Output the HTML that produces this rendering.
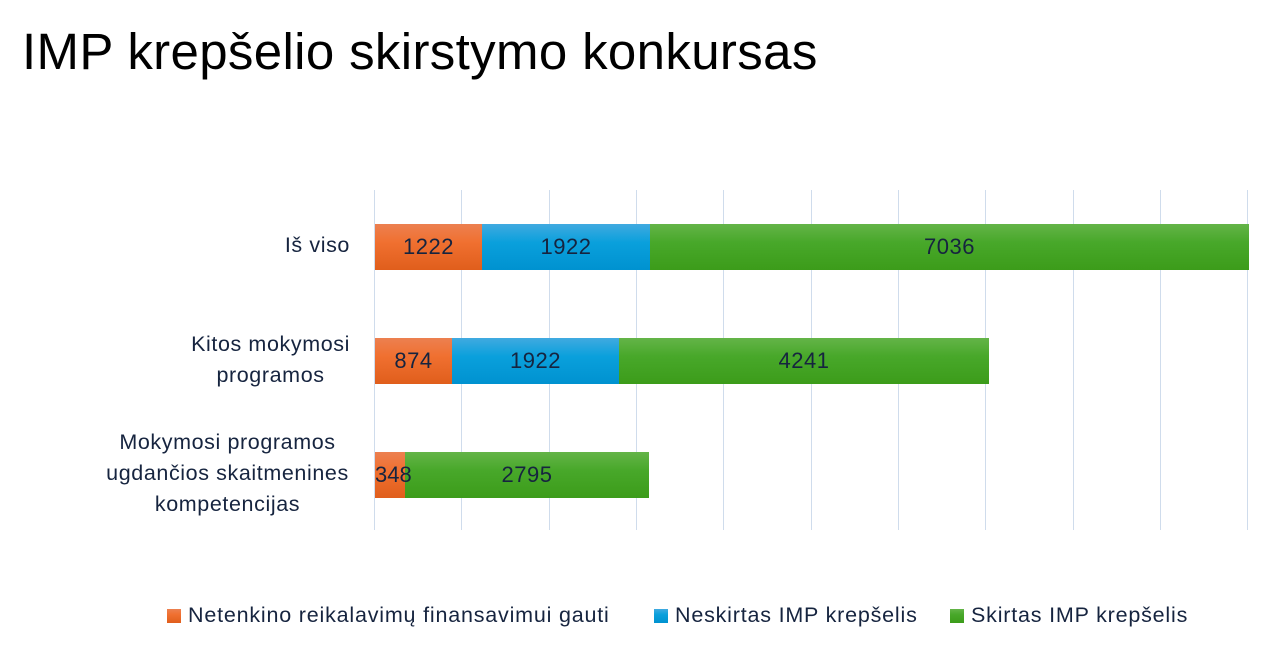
<!DOCTYPE html>
<html><head><meta charset="utf-8"><style>
body{margin:0;width:1278px;height:661px;background:#fff;font-family:"Liberation Sans",sans-serif;position:relative;overflow:hidden;color:#16243f}
.t{position:absolute;left:22px;top:22px;font-size:51px;color:#000;letter-spacing:0.35px}
.g{position:absolute;top:190px;height:340px;width:1px;background:#cfdcec}
.b{position:absolute;height:46px;display:flex;align-items:center;justify-content:center;font-size:22px;letter-spacing:0.5px;color:#16243f}
.o{background:linear-gradient(#ec8050,#f07030 40%,#e05e1c)}
.bl{background:linear-gradient(#40aae0,#0aa0dc 40%,#0092d0)}
.gr{background:linear-gradient(#64b448,#48a82a 40%,#3c9c1a)}
.l{position:absolute;font-size:21.5px;letter-spacing:0.6px;text-align:center;line-height:31px}
.lg{position:absolute;top:603px;font-size:21.5px;letter-spacing:0.8px;display:flex;align-items:center;white-space:nowrap}
.lg i{display:inline-block;width:14px;height:14px;margin-right:7px}
</style></head><body>
<div class="t">IMP krepšelio skirstymo konkursas</div>
<div class="g" style="left:374px"></div><div class="g" style="left:461px"></div><div class="g" style="left:549px"></div><div class="g" style="left:636px"></div><div class="g" style="left:723px"></div><div class="g" style="left:811px"></div><div class="g" style="left:898px"></div><div class="g" style="left:985px"></div><div class="g" style="left:1073px"></div><div class="g" style="left:1160px"></div><div class="g" style="left:1247px"></div>
<div class="b o" style="left:375px;top:224px;width:107px">1222</div>
<div class="b bl" style="left:482px;top:224px;width:168px">1922</div>
<div class="b gr" style="left:650px;top:224px;width:599px">7036</div>
<div class="b o" style="left:375px;top:338px;width:77px">874</div>
<div class="b bl" style="left:452px;top:338px;width:167px">1922</div>
<div class="b gr" style="left:619px;top:338px;width:370px">4241</div>
<div class="b o" style="left:375px;top:452px;width:30px"></div>
<div class="b gr" style="left:405px;top:452px;width:244px">2795</div>
<div class="b" style="left:375px;top:452px;width:40px;justify-content:flex-start;letter-spacing:0">348</div>
<div class="l" style="right:928px;top:230px">Iš viso</div>
<div class="l" style="right:928px;top:329px">Kitos mokymosi<br>programos</div>
<div class="l" style="left:80px;width:295px;top:427px">Mokymosi programos<br>ugdančios skaitmenines<br>kompetencijas</div>
<div class="lg" style="left:167px"><i class="o"></i>Netenkino reikalavimų finansavimui gauti</div>
<div class="lg" style="left:654px"><i class="bl"></i>Neskirtas IMP krepšelis</div>
<div class="lg" style="left:950px"><i class="gr"></i>Skirtas IMP krepšelis</div>
</body></html>
